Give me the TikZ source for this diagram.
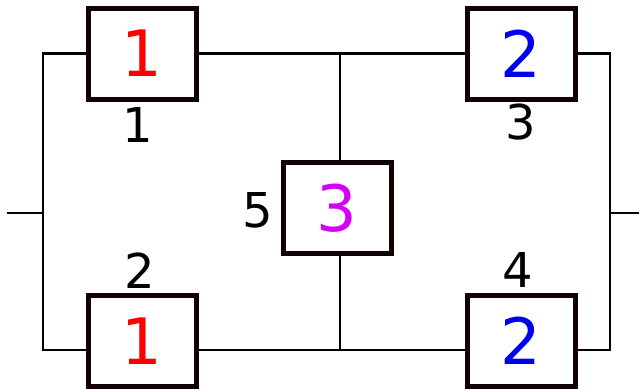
\documentclass[tikz,border=0pt]{standalone}
\usepackage{fontspec}
\setmainfont{DejaVu Sans}
\usetikzlibrary{positioning}
\definecolor{blkInk}{HTML}{120202}
\definecolor{blkRed}{HTML}{FF0000}
\definecolor{blkBlue}{HTML}{0000F0}
\definecolor{blkPink}{HTML}{D400F8}
\tikzset{
 rbd/.style={line cap=butt,line join=miter},
 block/.style={rectangle,draw=blkInk,fill=white,line width=5pt,inner sep=0pt,
   minimum width=108pt,minimum height=91pt,font=\fontsize{64}{64}\selectfont},
 tag/.style={font=\fontsize{48}{48}\selectfont,inner sep=0pt,text=black},
 wire/.style={draw=black,line width=2.1pt}
}
\begin{document}
\begin{tikzpicture}[rbd,x=1pt,y=-1pt]
 \useasboundingbox (0,0) rectangle (639,389);
 % blocks
 \node[block,text=blkRed] (b1) at (142,53.5) {1};
 \node[block,text=blkRed] (b2) at (142,341) {1};
 \node[block,text=blkBlue] (b3) at (521,53.5) {2};
 \node[block,text=blkBlue] (b4) at (521,341) {2};
 \node[block,text=blkPink] (b5) at (337,208) {3};
 % numbers
 \node[tag] (t1) at (138,125) {1};
 \node[tag] (t2) at (140,270.5) {2};
 \node[tag] (t3) at (521,122) {3};
 \node[tag] (t4) at (518,270) {4};
 \node[tag] (t5) at (258,210) {5};
 % ends and joints
 \coordinate (in) at (7,213);
 \coordinate (jl) at (43,213);
 \coordinate (jr) at (610,213);
 \coordinate (out) at (639,213);
 \path ([yshift=-9pt]b2.west) coordinate (b2l) ([yshift=-9pt]b2.east) coordinate (b2r);
 \path ([yshift=-9pt]b4.west) coordinate (b4l) ([yshift=-9pt]b4.east) coordinate (b4r);
 \path ([xshift=3pt]b5.north) coordinate (b5n) ([xshift=3pt]b5.south) coordinate (b5s);
 % wires
 \draw[wire] (in) -- (jl);
 \draw[wire] (b1.west) -| (jl) |- (b2l);
 \draw[wire] (b1.east) -- (b3.west);
 \draw[wire] (b2r) -- (b4l);
 \draw[wire] (b5n) -- (b5n |- b1.east);
 \draw[wire] (b5s) -- (b5s |- b2r);
 \draw[wire] (b3.east) -| (jr) |- (b4r);
 \draw[wire] (jr) -- (out);
\end{tikzpicture}
\end{document}
